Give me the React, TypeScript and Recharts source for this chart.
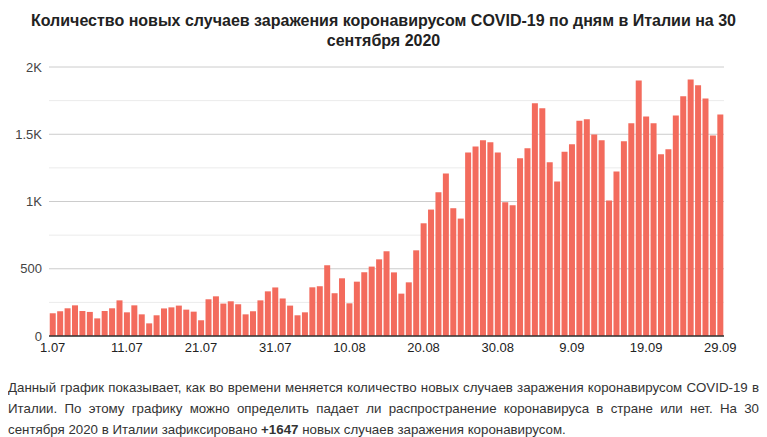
import { BarChart, Bar, XAxis, YAxis, CartesianGrid } from 'recharts';

// days from 1 July to 29 September 2020
const monthLengths = [
    { month: '07', days: 31 },
    { month: '08', days: 31 },
    { month: '09', days: 29 },
];

// new cases per day
const newCases = [
    169, 184, 206, 228, 186, 179, 131, 186, 206, 265,
    176, 228, 161, 94, 154, 205, 213, 226, 196, 181,
    117, 273, 295, 241, 258, 236, 161, 184, 265, 332,
    361, 279, 226, 154, 176, 362, 370, 526, 318, 429,
    243, 404, 474, 516, 570, 630, 473, 315, 399, 637,
    838, 940, 1069, 1208, 950, 873, 1364, 1409, 1456, 1441,
    1364, 994, 972, 1322, 1396, 1731, 1694, 1292, 1148, 1369,
    1426, 1600, 1612, 1498, 1456, 1007, 1223, 1448, 1582, 1900,
    1632, 1582, 1352, 1389, 1639, 1783, 1907, 1865, 1766, 1490,
    1647,
];

const yTicks = [0, 500, 1000, 1500, 2000];
const minorLines = [250, 750, 1250, 1750];

const dates: string[] = [];
monthLengths.forEach((m) => {
    for (let d = 1; d <= m.days; d++) dates.push(d + '.' + m.month);
});

const chartData = dates.map((date, i) => ({ date, cases: newCases[i] }));

const formatY = (v: number) => (v >= 1000 ? v / 1000 + 'K' : String(v));

const font = '"Liberation Sans", Arial, sans-serif';

const App = () => {
    return (
        <div style={{ width: 751, fontFamily: font }}>
            <div
                style={{
                    paddingTop: 3,
                    fontSize: 16,
                    fontWeight: 'bold',
                    lineHeight: '20px',
                    textAlign: 'center',
                    color: '#222',
                }}
            >
                Количество новых случаев заражения коронавирусом COVID-19 по дням в Италии на 30 сентября 2020
            </div>
            <BarChart
                width={751}
                height={315}
                data={chartData}
                margin={{ top: 16, right: 35, left: 0, bottom: 0 }}
                barCategoryGap="10%"
            >
                <CartesianGrid vertical={false} stroke="#ebebeb" horizontalValues={minorLines} />
                <CartesianGrid vertical={false} stroke="#cccccc" horizontalValues={yTicks} />
                <XAxis
                    dataKey="date"
                    interval={9}
                    tickLine={false}
                    tickSize={0}
                    tickMargin={7}
                    axisLine={{ stroke: '#333', strokeWidth: 1.5 }}
                    tick={{ fill: '#222', fontSize: 13 }}
                    height={30}
                />
                <YAxis
                    domain={[0, 2000]}
                    ticks={yTicks}
                    tickFormatter={formatY}
                    axisLine={false}
                    tickLine={false}
                    tickSize={0}
                    tickMargin={7}
                    width={41}
                    tick={{ fill: '#444', fontSize: 13 }}
                />
                <Bar dataKey="cases" fill="#f36b5d" isAnimationActive={false} />
            </BarChart>
            <div
                style={{
                    marginTop: 11,
                    fontSize: 13.3,
                    lineHeight: '21px',
                    textAlign: 'justify',
                    color: '#333',
                }}
            >
                Данный график показывает, как во времени меняется количество новых случаев заражения коронавирусом COVID-19 в Италии. По этому графику можно определить падает ли распространение коронавируса в стране или нет. На 30 сентября 2020 в Италии зафиксировано <b>+1647</b> новых случаев заражения коронавирусом.
            </div>
        </div>
    );
};

export default App;
